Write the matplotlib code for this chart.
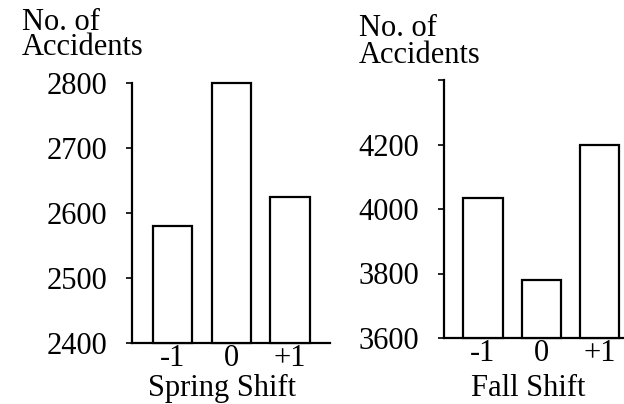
import matplotlib
matplotlib.use("Agg")
import matplotlib.pyplot as plt

# Data
shift_labels = ["-1", "0", "+1"]
spring_values = [2580, 2800, 2625]
fall_values = [4035, 3780, 4200]
spring_yticks = [2400, 2500, 2600, 2700, 2800]
fall_yticks = [3600, 3800, 4000, 4200, 4400]
fall_yticklabels = ["3600", "3800", "4000", "4200", ""]
ytitle = "No. of\nAccidents"

FONT = "Liberation Serif"
FS = 22
plt.rcParams['font.family'] = [FONT, 'DejaVu Serif']

W, H = 624, 404
fig = plt.figure(figsize=(W / 100, H / 100), dpi=100)


def px_axes(x0, x1, ytop, ybot):
    return fig.add_axes([x0 / W, 1 - ybot / H, (x1 - x0) / W, (ybot - ytop) / H])


def style(ax, values, yticks, yticklabels, ylim, xlim, xlabel, lab_x, lab_y):
    xs = list(range(len(values)))
    ax.bar(xs, [v - ylim[0] for v in values], bottom=ylim[0], width=0.67,
           facecolor="white", edgecolor="black", linewidth=1.6, clip_on=False, zorder=3)
    ax.set_ylim(*ylim)
    ax.set_xlim(*xlim)
    ax.set_yticks(yticks)
    ax.set_yticklabels(yticklabels, fontsize=FS)
    ax.set_xticks(xs)
    ax.set_xticklabels(shift_labels, fontsize=FS)
    ax.tick_params(axis="y", direction="out", length=4, width=1.2, pad=14)
    ax.tick_params(axis="x", length=0, pad=1)
    for s in ("top", "right"):
        ax.spines[s].set_visible(False)
    for s in ("left", "bottom"):
        ax.spines[s].set_linewidth(1.6)
    ax.set_xlabel(xlabel, fontsize=FS, va="baseline")
    ax.xaxis.set_label_coords(lab_x, lab_y)
    ax.patch.set_visible(False)


ax1 = px_axes(132, 330, 83, 343)
style(ax1, spring_values, spring_yticks, [str(t) for t in spring_yticks],
      (2400, 2800), (-0.69, 2.68), "Spring Shift", 0.455, -0.204)

ax2 = px_axes(444, 660, 80, 338)
style(ax2, fall_values, fall_yticks, fall_yticklabels,
      (3600, 4400), (-0.667, 3.03), "Fall Shift", 0.389, -0.225)

# y-axis titles
fig.text(22 / W, 1 - 8 / H, ytitle, fontsize=FS, va="top", ha="left", linespacing=0.8)
fig.text(359 / W, 1 - 14 / H, ytitle, fontsize=FS, va="top", ha="left", linespacing=0.9)

fig.savefig("out.png", dpi=100, facecolor="white")
